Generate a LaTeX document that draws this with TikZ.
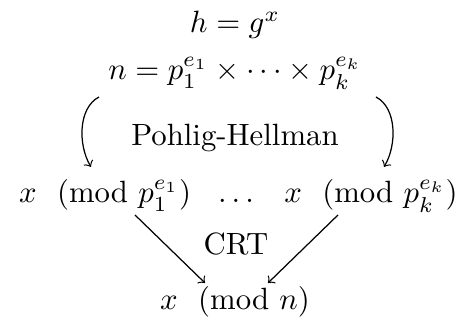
\documentclass[tikz,border=0pt]{standalone}
\newcommand{\mymod}[1]{\mkern12mu(\mathrm{mod}\,\,#1)}
\begin{document}
\begin{tikzpicture}[x=0.325pt,y=-0.325pt,
  lbl/.style={inner sep=0pt, anchor=base},
  arr/.style={->, line width=0.4pt}]
\useasboundingbox (0,0) rectangle (459,329);
\node[lbl] (h) at (235,33) {$h = g^x$};
\node[lbl] (n) at (235,80) {$n = p_1^{e_1} \times \cdots \times p_k^{e_k}$};
\node[lbl] (ph) at (235,146) {Pohlig-Hellman};
\node[lbl] (x1) at (105,203) {$x \mymod{p_1^{e_1}}$};
\node[lbl] (dots) at (236,203) {$\dots$};
\node[lbl] (xk) at (371,203) {$x \mymod{p_k^{e_k}}$};
\node[lbl] (crt) at (236,255) {CRT};
\node[lbl] (xn) at (235,310) {$x \mymod{n}$};
\coordinate (l1) at (99,97);
\coordinate (l2) at (91,167);
\coordinate (r1) at (376,97);
\coordinate (r2) at (384,167);
\coordinate (d1) at (135,215);
\coordinate (d2) at (205,283);
\coordinate (e1) at (338,215);
\coordinate (e2) at (268,283);
\draw[arr] (l1) .. controls (78,108) and (78,145) .. (l2);
\draw[arr] (r1) .. controls (397,108) and (397,145) .. (r2);
\draw[arr] (d1) -- (d2);
\draw[arr] (e1) -- (e2);
\end{tikzpicture}
\end{document}
